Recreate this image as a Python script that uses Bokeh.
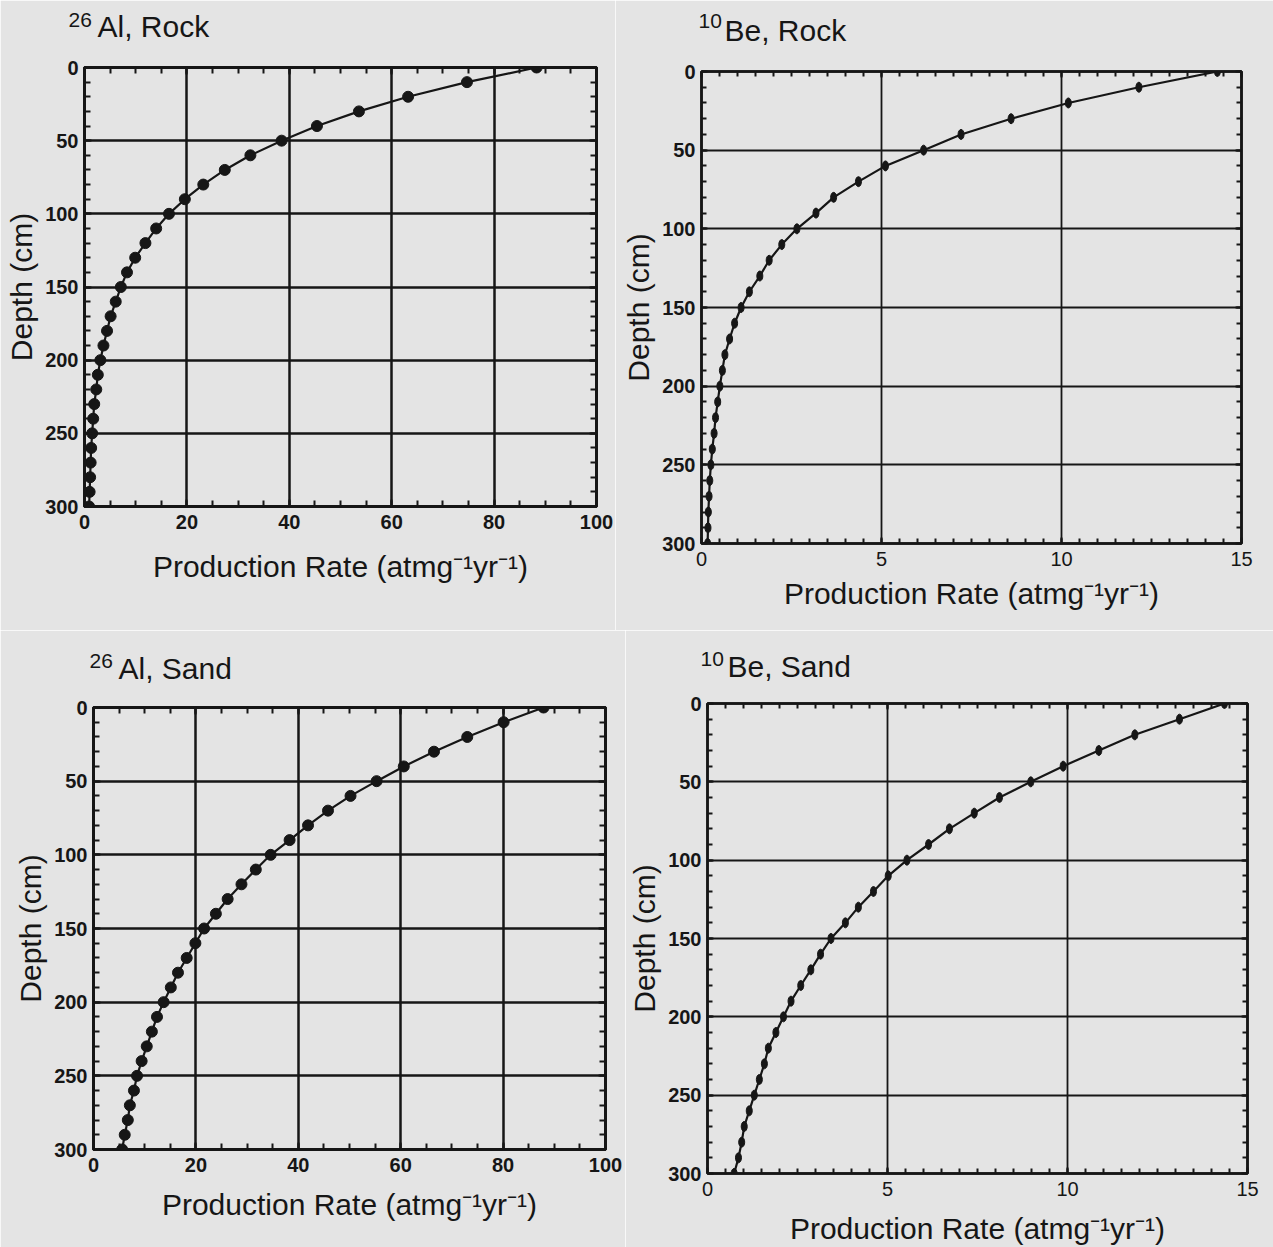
from bokeh.plotting import figure
from bokeh.models import Range1d, FixedTicker, LinearAxis, Title
from bokeh.layouts import column, row
from bokeh.embed import file_html
from bokeh.resources import INLINE

# ---------------- data ----------------
depth = [0, 10, 20, 30, 40, 50, 60, 70, 80, 90, 100, 110, 120, 130, 140, 150,
         160, 170, 180, 190, 200, 210, 220, 230, 240, 250, 260, 270, 280, 290, 300]

al_rock = [88.3, 74.7, 63.2, 53.6, 45.4, 38.5, 32.4, 27.4, 23.2, 19.6, 16.5,
           14.0, 11.9, 9.9, 8.3, 7.1, 6.1, 5.1, 4.4, 3.7, 3.1, 2.6, 2.3, 1.9,
           1.7, 1.5, 1.3, 1.2, 1.1, 1.0, 0.9]

be_rock = [14.33, 12.15, 10.19, 8.60, 7.21, 6.17, 5.11, 4.36, 3.67, 3.18, 2.65,
           2.23, 1.88, 1.62, 1.33, 1.10, 0.92, 0.78, 0.65, 0.58, 0.51, 0.45,
           0.39, 0.35, 0.30, 0.26, 0.23, 0.21, 0.19, 0.18, 0.17]

al_sand = [87.9, 80.1, 73.0, 66.5, 60.6, 55.3, 50.2, 45.8, 41.9, 38.3, 34.6,
           31.7, 28.9, 26.2, 23.9, 21.6, 19.9, 18.2, 16.5, 15.1, 13.7, 12.4,
           11.4, 10.4, 9.4, 8.5, 7.9, 7.1, 6.7, 6.1, 5.6]

be_sand = [14.36, 13.11, 11.87, 10.87, 9.88, 8.98, 8.11, 7.41, 6.72, 6.14, 5.54,
           5.02, 4.61, 4.19, 3.83, 3.43, 3.14, 2.87, 2.59, 2.32, 2.11, 1.90,
           1.69, 1.58, 1.44, 1.30, 1.16, 1.02, 0.95, 0.86, 0.74]

al_xticks = [0, 20, 40, 60, 80, 100]
be_xticks = [0, 5, 10, 15]
y_ticks = [0, 50, 100, 150, 200, 250, 300]

isotopes = ["26", "10", "26", "10"]
titles = ["Al, Rock", "Be, Rock", "Al, Sand", "Be, Sand"]
x_label = "Production Rate (atmg\u207b\u00b9yr\u207b\u00b9)"
y_label = "Depth (cm)"

BG = "#e4e4e4"
INK = "#161616"
FONT = "Liberation Sans"


def hidden_axis_kwargs():
    return dict(major_label_text_font_size="1px", major_label_text_color=None,
                major_label_standoff=0, axis_label_standoff=0)


def make_panel(xs, xmax, xticks, xminor_step, iso, title, width, height,
               borders, sup_offset, title_offset, lift, sup_standoff,
               xlabel_standoff, al_style):
    left, right, top, bottom = borders
    p = figure(width=width, height=height,
               x_range=Range1d(0, xmax), y_range=Range1d(300, 0),
               output_backend="svg", toolbar_location=None,
               min_border_left=left, min_border_right=right,
               min_border_top=top, min_border_bottom=bottom)
    p.background_fill_color = BG
    p.border_fill_color = BG
    p.outline_line_color = INK
    frame_w = 3 if al_style else 2.5
    grid_w = 2.5 if al_style else 1.8
    p.outline_line_width = frame_w

    n_minor = int(round(xmax / xminor_step))
    xminor = [round(i * xminor_step, 3) for i in range(n_minor + 1)]
    yminor = list(range(0, 301, 10))
    xt = FixedTicker(ticks=xticks, minor_ticks=xminor)
    yt = FixedTicker(ticks=y_ticks, minor_ticks=yminor)

    p.xaxis.ticker = xt
    p.yaxis.ticker = yt
    p.xgrid.ticker = xt
    p.ygrid.ticker = yt
    for g in (p.xgrid, p.ygrid):
        g.grid_line_color = INK
        g.grid_line_width = grid_w
        g.grid_line_alpha = 1.0

    tick_len = 7 if al_style else 6
    for ax in (p.xaxis[0], p.yaxis[0]):
        ax.axis_line_color = INK
        ax.axis_line_width = frame_w
        ax.major_tick_in = tick_len
        ax.major_tick_out = 0
        ax.minor_tick_in = tick_len - 1
        ax.minor_tick_out = 0
        ax.major_tick_line_color = INK
        ax.minor_tick_line_color = INK
        ax.major_tick_line_width = 2
        ax.minor_tick_line_width = 2
        ax.major_label_text_font = FONT
        ax.major_label_text_font_size = "20px"
        ax.major_label_text_color = INK
        ax.axis_label_text_font = FONT
        ax.axis_label_text_font_style = "normal"
        ax.axis_label_text_font_size = "30px"
        ax.axis_label_text_color = INK

    p.xaxis.major_label_standoff = 8
    p.yaxis.major_label_standoff = 6
    p.xaxis.major_label_text_font_style = "bold" if al_style else "normal"
    p.yaxis.major_label_text_font_style = "bold"
    p.xaxis.axis_label = x_label
    p.yaxis.axis_label = y_label
    p.xaxis.axis_label_standoff = xlabel_standoff
    p.yaxis.axis_label_standoff = 4

    # mirrored axes on top and right: inward ticks only
    for side, tick in (("above", xt), ("right", yt)):
        ax = LinearAxis(ticker=tick, axis_line_color=INK,
                        axis_line_width=frame_w, major_tick_in=tick_len,
                        major_tick_out=0, minor_tick_in=tick_len - 1,
                        minor_tick_out=0, major_tick_line_color=INK,
                        minor_tick_line_color=INK, major_tick_line_width=2,
                        minor_tick_line_width=2, **hidden_axis_kwargs())
        p.add_layout(ax, side)

    # invisible spacer between frame and the title lines
    spacer = LinearAxis(ticker=xt, axis_line_color=None, major_tick_in=0,
                        major_tick_out=lift, minor_tick_in=0, minor_tick_out=0,
                        major_tick_line_color=None, minor_tick_line_color=None,
                        **hidden_axis_kwargs())
    p.add_layout(spacer, "above")

    # main title text ("Al, Rock" ...)
    main = Title(text=title, text_font=FONT, text_font_size="30px",
                 text_font_style="normal", text_color=INK, align="left",
                 offset=title_offset, standoff=-26)
    p.add_layout(main, "above")

    # isotope mass number, smaller and raised, left of the title text
    p.title.text = iso
    p.title.text_font = FONT
    p.title.text_font_size = "21px"
    p.title.text_font_style = "normal"
    p.title.text_color = INK
    p.title.align = "left"
    p.title.offset = sup_offset
    p.title.standoff = sup_standoff

    p.line(xs, depth, line_color=INK, line_width=2.2)
    if al_style:
        p.scatter(xs, depth, marker="circle", size=11, color=INK)
    else:
        p.ellipse(x=xs, y=depth, width=6, height=10, width_units="screen",
                  height_units="screen", color=INK)
    return p


p1 = make_panel(al_rock, 100, al_xticks, 5, isotopes[0], titles[0], 615, 630,
                (84, 19, 67, 124), -16, 13, 38, -12, 18, True)
p2 = make_panel(be_rock, 15, be_xticks, 0.5, isotopes[1], titles[1], 658, 630,
                (86, 32, 71, 87), -3, 23, 38, -6, 8, False)
p3 = make_panel(al_sand, 100, al_xticks, 5, isotopes[2], titles[2], 625, 617,
                (93, 20, 77, 98), -4, 25, 36, -10, 13, True)
p4 = make_panel(be_sand, 15, be_xticks, 0.5, isotopes[3], titles[3], 648, 617,
                (82, 26, 73, 70), -7, 20, 34, -10, 13, False)

layout = column(row(column(p1), column(p2), spacing=0),
                row(column(p3), column(p4), spacing=0), spacing=0)

open("out.html", "w").write(file_html(layout, INLINE))
